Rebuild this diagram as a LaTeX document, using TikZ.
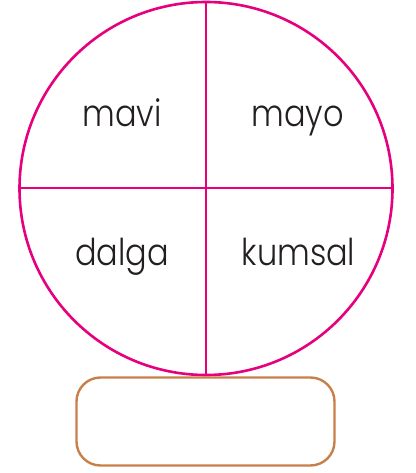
\documentclass[tikz,border=0pt]{standalone}
\usepackage{fontspec}
\setmainfont{Poppins Light}
\definecolor{mag}{HTML}{E6007E}
\definecolor{brn}{HTML}{C8804A}
\definecolor{txt}{HTML}{231F20}
\begin{document}
\begin{tikzpicture}[x=1pt,y=-1pt,
  word/.style={anchor=base,font=\fontsize{37}{40}\selectfont,text=txt,inner sep=0pt,xscale=0.865},
  ring/.style={draw=mag,line width=2.6pt},
  divider/.style={draw=mag,line width=2.2pt}]
\useasboundingbox (0,0) rectangle (415,473);
\coordinate (c) at (206,188.5);
\draw[ring] (c) circle[radius=186.5];
\coordinate (t) at (206,2);
\coordinate (b) at (206,375);
\coordinate (l) at (19.5,188);
\coordinate (r) at (392.5,188);
\draw[divider] (t) -- (b);
\draw[divider] (l) -- (r);
\node[word] (w1) at (122,127) {mavi};
\node[word] (w2) at (297.5,127) {mayo};
\node[word] (w3) at (122,265) {dalga};
\node[word] (w4) at (298.5,265) {kumsal};
\draw[draw=brn,line width=2.4pt,rounded corners=24pt] (76.5,377.5) rectangle (334.5,465.5);
\end{tikzpicture}
\end{document}
